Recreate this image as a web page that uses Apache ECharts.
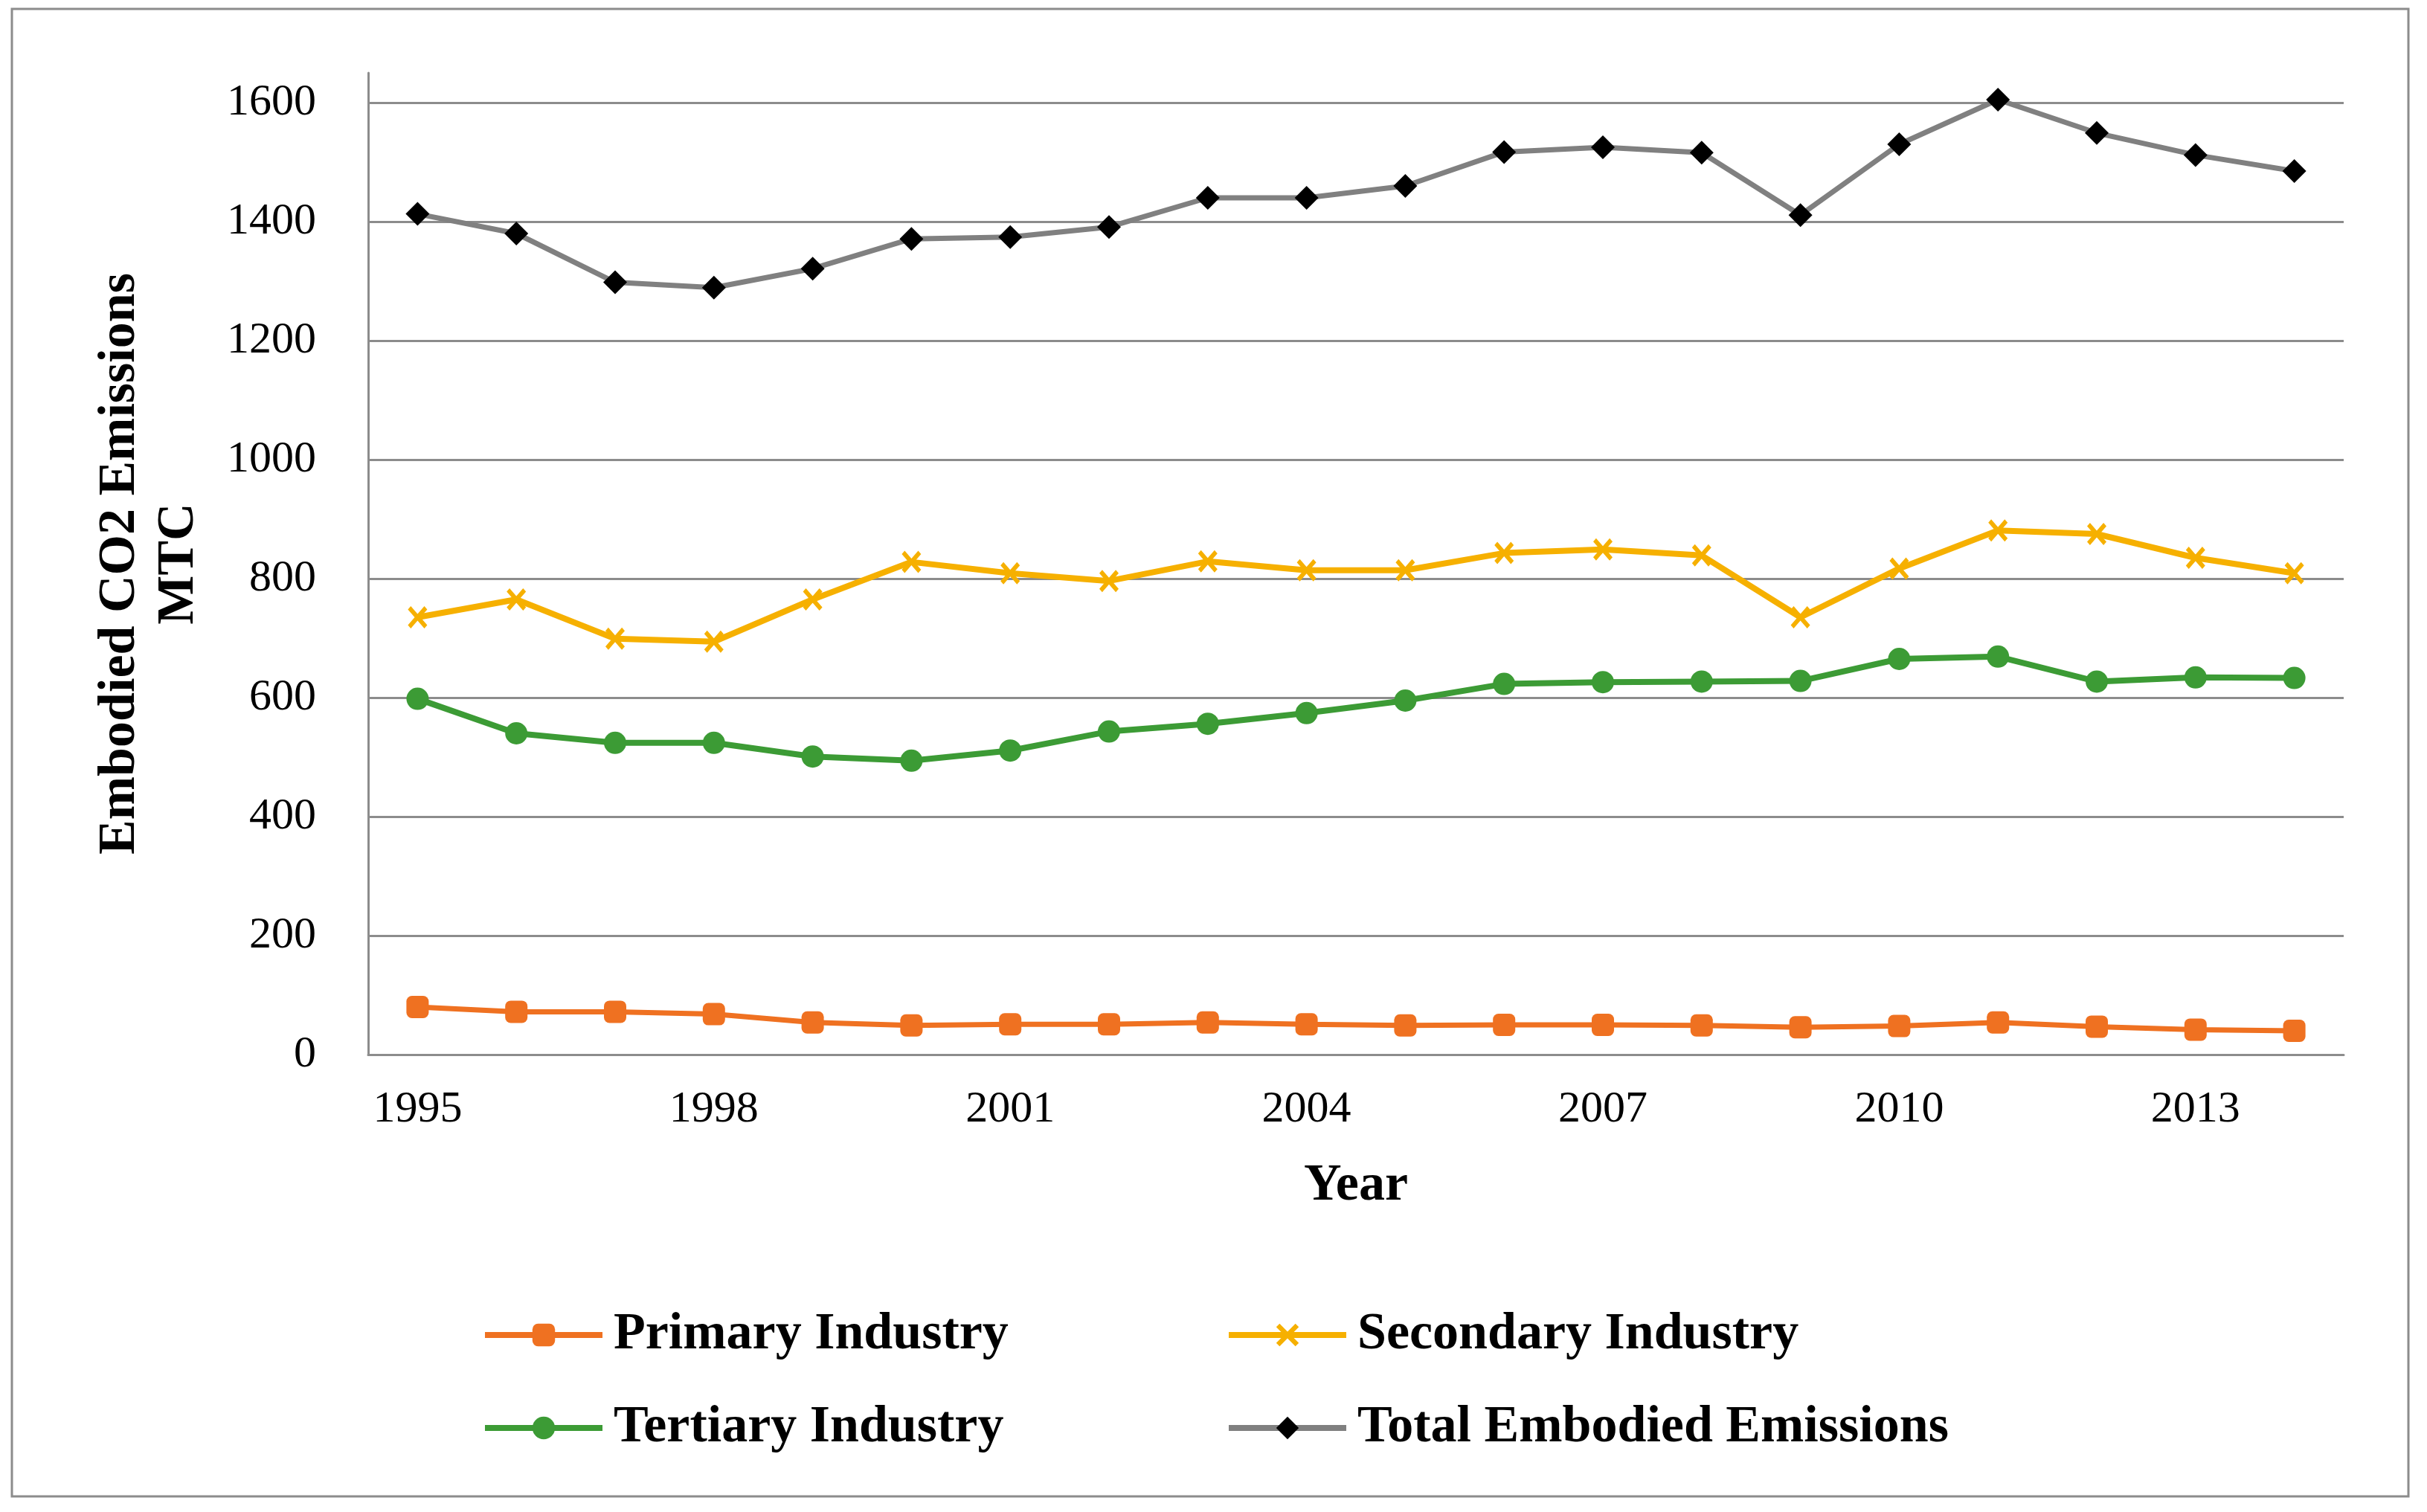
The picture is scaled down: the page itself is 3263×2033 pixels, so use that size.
<!DOCTYPE html>
<html>
<head>
<meta charset="utf-8">
<script src="https://cdn.jsdelivr.net/npm/echarts@6/dist/echarts.min.js"></script>
<style>
html,body{margin:0;padding:0;background:#fff;}
#chart{width:3263px;height:2033px;}
</style>
</head>
<body>
<div id="chart"></div>
<script>
const years = ['1995','1996','1997','1998','1999','2000','2001','2002','2003','2004','2005','2006','2007','2008','2009','2010','2011','2012','2013','2014'];
const primary = [80,72,72,68,54,49,51,51,54,51,49,50,50,49,46,48,54,47,42,40];
const secondary = [735,765,699,694,765,828,809,796,829,814,814,843,849,839,735,817,881,875,835,809];
const tertiary = [598,540,524,524,501,494,511,543,556,574,595,623,626,627,628,665,669,627,634,633];
const total = [1413,1380,1298,1289,1321,1371,1374,1391,1440,1440,1460,1517,1525,1516,1411,1530,1605,1549,1512,1485];
const seriesNames = ['Primary Industry','Secondary Industry','Tertiary Industry','Total Embodied Emissions'];

const FONT = "'Liberation Serif','Times New Roman',serif";
const GRAY = '#8c8c8c';
const xMark = 'path://M0,3 L3,0 L10,7 L17,0 L20,3 L13,10 L20,17 L17,20 L10,13 L3,20 L0,17 L7,10 Z';

const chart = echarts.init(document.getElementById('chart'), null, {renderer:'canvas'});
const legendCommon = {
  orient: 'vertical',
  top: 1750,
  itemWidth: 158,
  itemHeight: 38,
  itemGap: 45,
  lineStyle: {width: 8},
  textStyle: {fontFamily: FONT, fontWeight: 'bold', fontSize: 70, color: '#000', lineHeight: 80, padding: [0,0,0,10]}
};
chart.setOption({
  animation: false,
  backgroundColor: '#fff',
  graphic: [{
    type: 'rect', silent: true, z: -1,
    shape: {x: 16, y: 12, width: 3222, height: 2000},
    style: {fill: 'none', stroke: GRAY, lineWidth: 3}
  }],
  grid: {left: 495, right: 112, top: 98, bottom: 615, containLabel: false},
  legend: [
    Object.assign({left: 643, data: [seriesNames[0], seriesNames[2]]}, legendCommon),
    Object.assign({left: 1643, data: [seriesNames[1], seriesNames[3]]}, legendCommon)
  ],
  xAxis: {
    type: 'category',
    data: years,
    boundaryGap: true,
    name: 'Year',
    nameLocation: 'middle',
    nameGap: 142,
    nameTextStyle: {fontFamily: FONT, fontWeight: 'bold', fontSize: 70, color: '#000'},
    axisLine: {lineStyle: {color: GRAY, width: 3}},
    axisTick: {show: false},
    axisLabel: {interval: 2, margin: 44, fontFamily: FONT, fontSize: 60, color: '#000'},
    splitLine: {show: false}
  },
  yAxis: {
    type: 'value',
    min: 0, max: 1650, interval: 200,
    name: 'Embodied CO2 Emissions\nMTC',
    nameLocation: 'middle',
    nameRotate: 90,
    nameGap: 215,
    nameTextStyle: {fontFamily: FONT, fontWeight: 'bold', fontSize: 70, color: '#000', lineHeight: 79},
    axisLine: {show: true, lineStyle: {color: GRAY, width: 3}},
    axisTick: {show: false},
    axisLabel: {margin: 70, fontFamily: FONT, fontSize: 60, color: '#000', showMaxLabel: false,
      formatter: v => (v % 200 === 0 ? String(v) : '')},
    splitLine: {show: true, showMaxLine: false, lineStyle: {color: GRAY, width: 3}}
  },
  series: [
    {name: seriesNames[0], type: 'line', data: primary, symbol: 'roundRect', symbolSize: 30,
      lineStyle: {color: '#EF7121', width: 7}, itemStyle: {color: '#EF7121'}},
    {name: seriesNames[1], type: 'line', data: secondary, symbol: xMark, symbolSize: [26, 30],
      lineStyle: {color: '#F6B000', width: 8}, itemStyle: {color: '#F6B000'}},
    {name: seriesNames[2], type: 'line', data: tertiary, symbol: 'circle', symbolSize: 30,
      lineStyle: {color: '#3C9B35', width: 8}, itemStyle: {color: '#3C9B35'}},
    {name: seriesNames[3], type: 'line', data: total, symbol: 'diamond', symbolSize: 32,
      lineStyle: {color: '#808080', width: 7}, itemStyle: {color: '#000'}}
  ]
});
</script>
</body>
</html>
